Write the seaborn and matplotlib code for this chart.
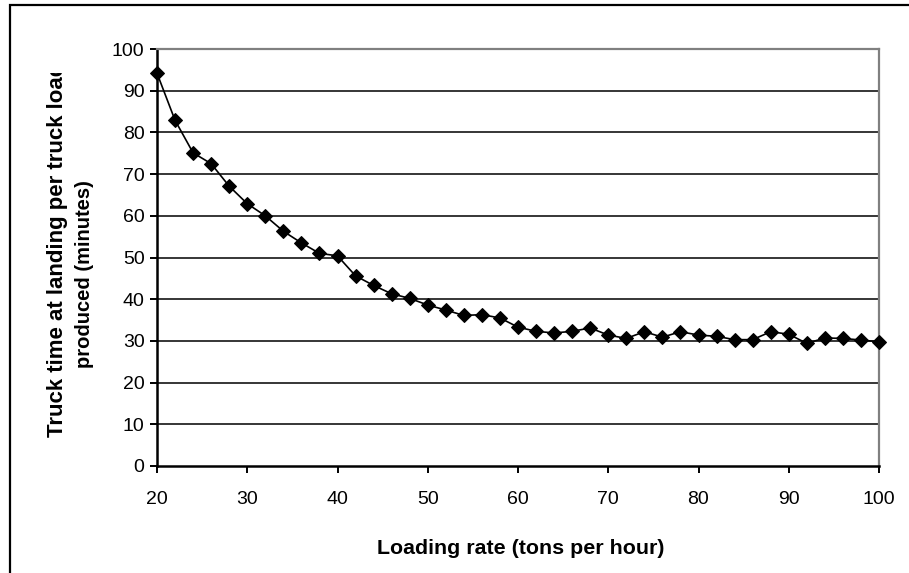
import matplotlib
matplotlib.use("Agg")
import matplotlib.pyplot as plt
import seaborn as sns
import pandas as pd
from matplotlib.patches import Rectangle
from matplotlib.transforms import Bbox

loading_rate = [20, 22, 24, 26, 28, 30, 32, 34, 36, 38, 40, 42, 44, 46, 48, 50,
                52, 54, 56, 58, 60, 62, 64, 66, 68, 70, 72, 74, 76, 78, 80, 82,
                84, 86, 88, 90, 92, 94, 96, 98, 100]
truck_time = [94.2, 82.9, 75.1, 72.5, 67.1, 62.9, 60.0, 56.3, 53.5, 51.0, 50.4,
              45.6, 43.3, 41.3, 40.2, 38.6, 37.4, 36.1, 36.3, 35.5, 33.3, 32.3,
              31.9, 32.3, 33.1, 31.4, 30.6, 32.2, 30.9, 32.2, 31.4, 31.1, 30.3,
              30.3, 32.2, 31.6, 29.4, 30.7, 30.6, 30.2, 29.8]
x_ticks = [20, 30, 40, 50, 60, 70, 80, 90, 100]
y_ticks = [0, 10, 20, 30, 40, 50, 60, 70, 80, 90, 100]

df = pd.DataFrame({"rate": loading_rate, "time": truck_time})

sns.set_theme(style="white")
plt.rcParams["font.family"] = ["Liberation Sans", "DejaVu Sans"]

W, H = 909, 573
fig = plt.figure(figsize=(W / 100, H / 100), dpi=100)
fig.patch.set_facecolor("white")

# outer chart border (only top and left visible)
fig.patches.append(Rectangle((10 / W, -0.1), 1.2, (H - 5) / H + 0.1,
                             transform=fig.transFigure, fill=False,
                             edgecolor="black", linewidth=1.6))

ax = fig.add_axes([157 / W, 1 - 466 / H, (879 - 157) / W, (466 - 49) / H])
ax.set_facecolor("white")

sns.lineplot(data=df, x="rate", y="time", ax=ax, color="black", linewidth=1.2,
             marker="D", markersize=7, markeredgecolor="black",
             markerfacecolor="black", zorder=5, clip_on=False)

ax.set_xlim(20, 100)
ax.set_ylim(0, 100)
ax.set_xticks(x_ticks)
ax.set_yticks(y_ticks)
ax.set_xticklabels([str(t) for t in x_ticks], fontsize=14)
ax.set_yticklabels([str(t) for t in y_ticks], fontsize=14)
for t in y_ticks[1:]:
    ax.axhline(t, color="black", linewidth=1.1, zorder=1)

ax.tick_params(axis="both", direction="out", length=5, width=1.4,
               colors="black", labelcolor="black")
ax.tick_params(axis="x", pad=13, bottom=True)
ax.tick_params(axis="y", pad=4, left=True)

ax.spines["left"].set_color("black")
ax.spines["bottom"].set_color("black")
ax.spines["left"].set_linewidth(1.8)
ax.spines["bottom"].set_linewidth(1.8)
ax.spines["top"].set_color("#808080")
ax.spines["right"].set_color("#808080")
ax.spines["top"].set_linewidth(1.6)
ax.spines["right"].set_linewidth(1.6)
for s in ax.spines.values():
    s.set_visible(True)
    s.set_zorder(4)

ax.set_xlabel("")
ax.set_ylabel("")

fig.text(521 / W, 1 - 548 / H, "Loading rate (tons per hour)", ha="center",
         va="center", fontsize=15.4, fontweight="bold", color="black")

# y-axis title (two lines, first line clipped at the top as in the original)
t1 = fig.text(57 / W, 1 - 437 / H, "Truck time at landing per truck load",
              rotation=90, ha="left", va="center", fontsize=16,
              fontweight="bold", color="black", rotation_mode="anchor")
t1.set_clip_on(True)
t1.set_clip_box(Bbox.from_extents(0, 0, W, H - 73))
fig.text(85 / W, 1 - 274 / H, "produced (minutes)", rotation=90, ha="center",
         va="center", fontsize=14.5, fontweight="bold", color="black")

fig.savefig("out.png", dpi=100, facecolor="white")
